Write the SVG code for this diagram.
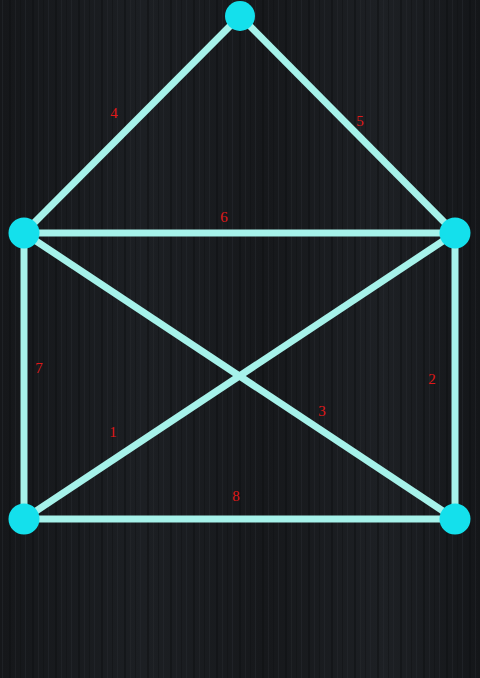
<svg xmlns="http://www.w3.org/2000/svg" width="480" height="678" viewBox="0 0 480 678">
<defs>
<linearGradient id="bg" x1="0" y1="0" x2="1" y2="0">
<stop offset="0" stop-color="#15171a"/>
<stop offset="0.3" stop-color="#1c1f23"/>
<stop offset="0.55" stop-color="#16181b"/>
<stop offset="0.8" stop-color="#1d2024"/>
<stop offset="1" stop-color="#141619"/>
</linearGradient>
<pattern id="grain" width="23" height="678" patternUnits="userSpaceOnUse">
<rect x="2" y="0" width="1" height="678" fill="#24282d" opacity="0.6"/>
<rect x="9" y="0" width="2" height="678" fill="#0e0f11" opacity="0.5"/>
<rect x="15" y="0" width="1" height="678" fill="#2a2e33" opacity="0.4"/>
<rect x="20" y="0" width="1" height="678" fill="#101113" opacity="0.5"/>
</pattern>
</defs>
<style>
.edge{stroke:#a6f2ea;stroke-width:7;stroke-linecap:butt;fill:none}
.node{fill:#14e0ec}
.lbl{font-family:"Liberation Serif",serif;font-size:15px;fill:#e01818;text-anchor:middle}
</style>
<rect width="480" height="678" fill="url(#bg)"/>
<rect width="480" height="678" fill="url(#grain)"/>
<g id="connectors">
<line class="edge" x1="240" y1="16" x2="24" y2="233"/>
<line class="edge" x1="240" y1="16" x2="455" y2="233"/>
<line class="edge" x1="24" y1="233" x2="455" y2="233"/>
<line class="edge" x1="24" y1="233" x2="24" y2="519"/>
<line class="edge" x1="455" y1="233" x2="455" y2="519"/>
<line class="edge" x1="24" y1="233" x2="455" y2="519"/>
<line class="edge" x1="455" y1="233" x2="24" y2="519"/>
<line class="edge" x1="24" y1="519" x2="455" y2="519"/>
</g>
<g id="labels">
<text class="lbl" x="114" y="118">4</text>
<text class="lbl" x="360" y="126">5</text>
<text class="lbl" x="224" y="222">6</text>
<text class="lbl" x="39" y="373">7</text>
<text class="lbl" x="432" y="384">2</text>
<text class="lbl" x="322" y="416">3</text>
<text class="lbl" x="113" y="437">1</text>
<text class="lbl" x="236" y="501">8</text>
</g>
<g id="node-top"><circle class="node" cx="240" cy="16" r="15"/></g>
<g id="node-left"><circle class="node" cx="24" cy="233" r="15.5"/></g>
<g id="node-right"><circle class="node" cx="455" cy="233" r="15.5"/></g>
<g id="node-bottom-left"><circle class="node" cx="24" cy="519" r="15.5"/></g>
<g id="node-bottom-right"><circle class="node" cx="455" cy="519" r="15.5"/></g>
</svg>
